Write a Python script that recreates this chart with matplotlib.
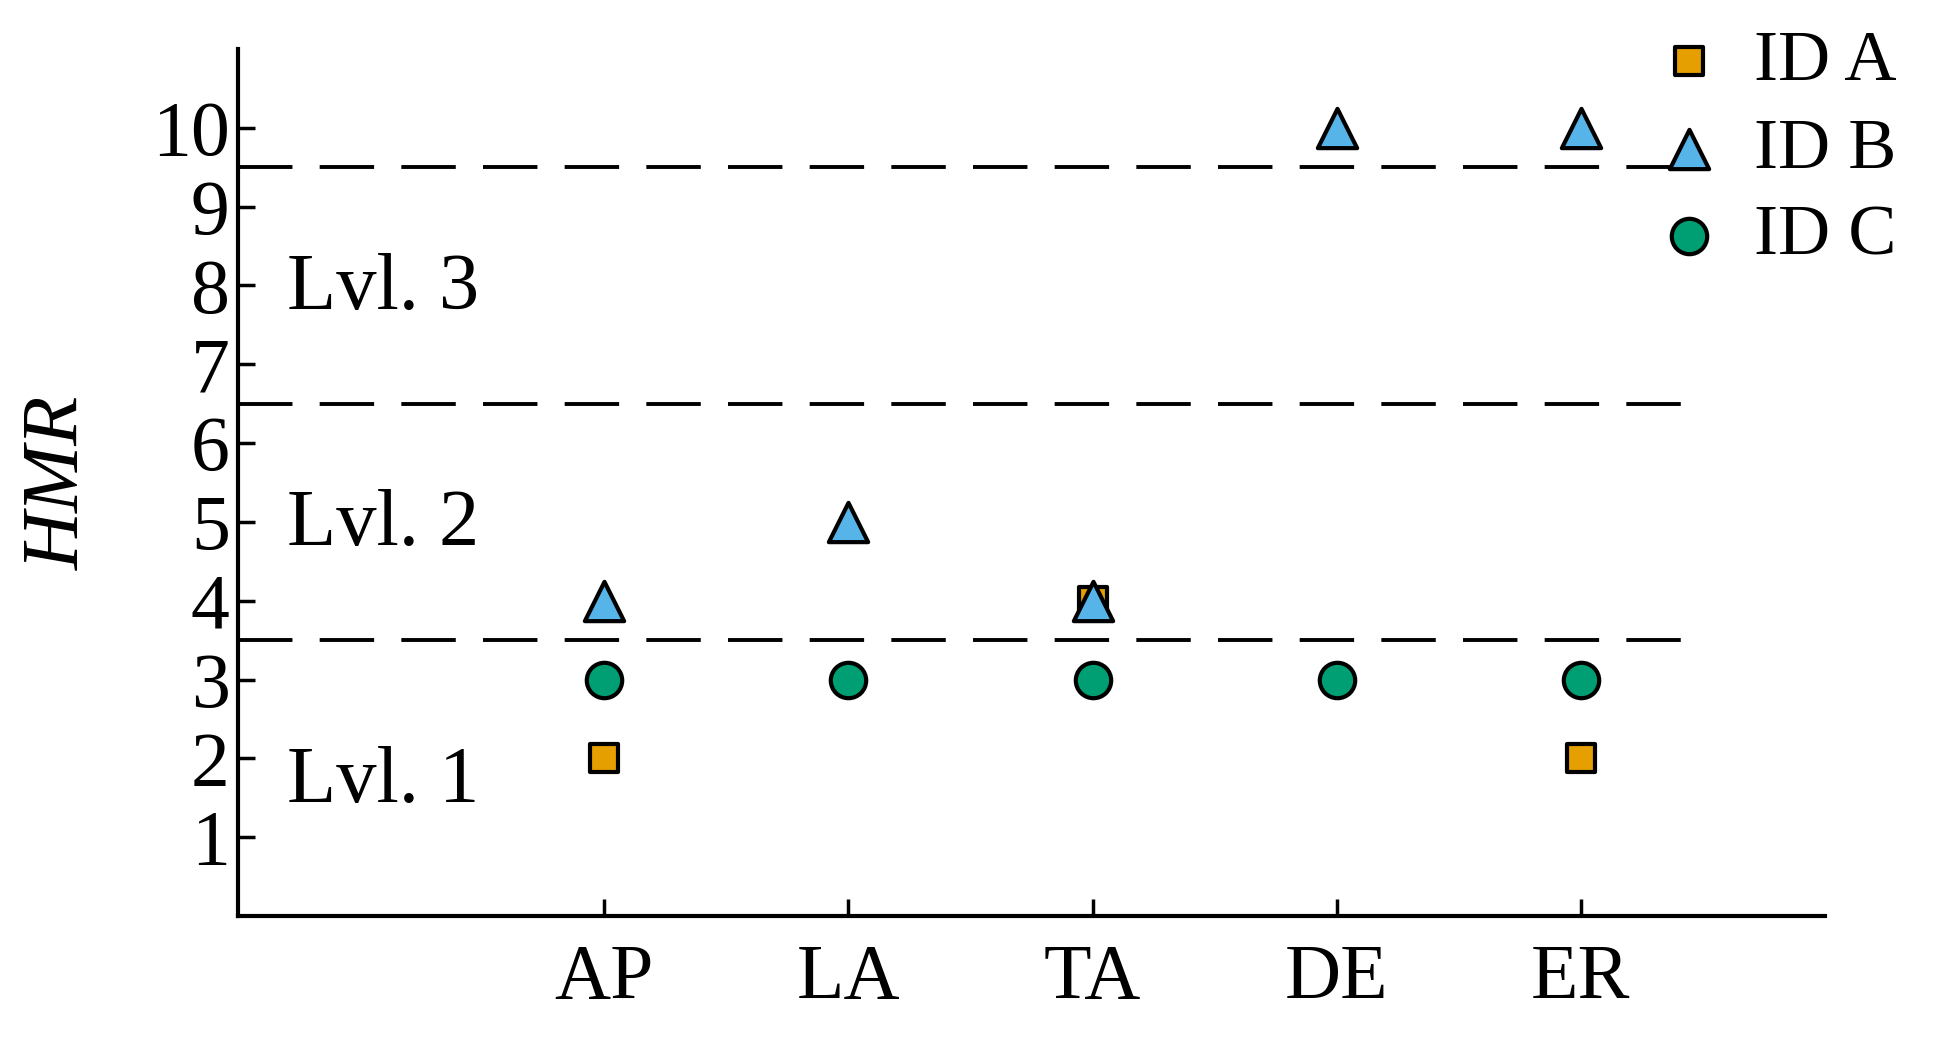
import matplotlib
matplotlib.use("Agg")
import matplotlib.pyplot as plt

categories = ["AP", "LA", "TA", "DE", "ER"]
id_a_x = ["AP", "TA", "ER"]
id_a = [2, 4, 2]
id_b = [4, 5, 4, 10, 10]
id_c = [3, 3, 3, 3, 3]
thresholds = [3.5, 6.5, 9.5]
levels = ["Lvl. 1", "Lvl. 2", "Lvl. 3"]
level_y = [1.7, 4.95, 7.95]
yticks = list(range(1, 11))

plt.rcParams['font.family'] = ['Liberation Serif', 'DejaVu Serif']
fig = plt.figure(figsize=(19.37, 10.37), dpi=100)
ax = fig.add_axes([238/1937, 1-916/1037, (1825-238)/1937, (916-49)/1037])

pos = {c: i+1 for i, c in enumerate(categories)}
xs = [pos[c] for c in categories]
for t in thresholds:
    ax.plot([-0.5, 5.45], [t, t], color='black', lw=2.8, ls=(0, (14, 7)), zorder=1)
ax.scatter(xs, id_c, marker='o', s=650, color='#009E73', edgecolor='black', linewidth=3, zorder=3, label='ID C')
ax.scatter([pos[c] for c in id_a_x], id_a, marker='s', s=420, color='#E69F00', edgecolor='black', linewidth=3, zorder=3, label='ID A')
ax.scatter(xs, id_b, marker='^', s=800, color='#56B4E9', edgecolor='black', linewidth=3, zorder=4, label='ID B')
for lab, y in zip(levels, level_y):
    ax.text(-0.3, y, lab, fontsize=58, va='center', ha='left')

ax.set_xlim(-0.5, 6)
ax.set_ylim(0, 11)
ax.set_xticks(xs)
ax.set_xticklabels(categories)
ax.set_yticks(yticks)
ax.tick_params(direction='in', length=12, width=2.5, labelsize=56, pad=6)
ax.tick_params(axis='x', pad=20)
for s in ['top', 'right']:
    ax.spines[s].set_visible(False)
for s in ['left', 'bottom']:
    ax.spines[s].set_linewidth(3)
ax.set_ylabel('HMR', fontsize=58, style='italic', labelpad=40)

h, l = ax.get_legend_handles_labels()
order = [1, 2, 0]
fig.legend([h[i] for i in order], [l[i] for i in order], loc='upper right',
           bbox_to_anchor=(1.005, 1.02), frameon=False, fontsize=52,
           handletextpad=-0.1, labelspacing=0.3, borderpad=0.2)
fig.savefig('out.png', dpi=100)
